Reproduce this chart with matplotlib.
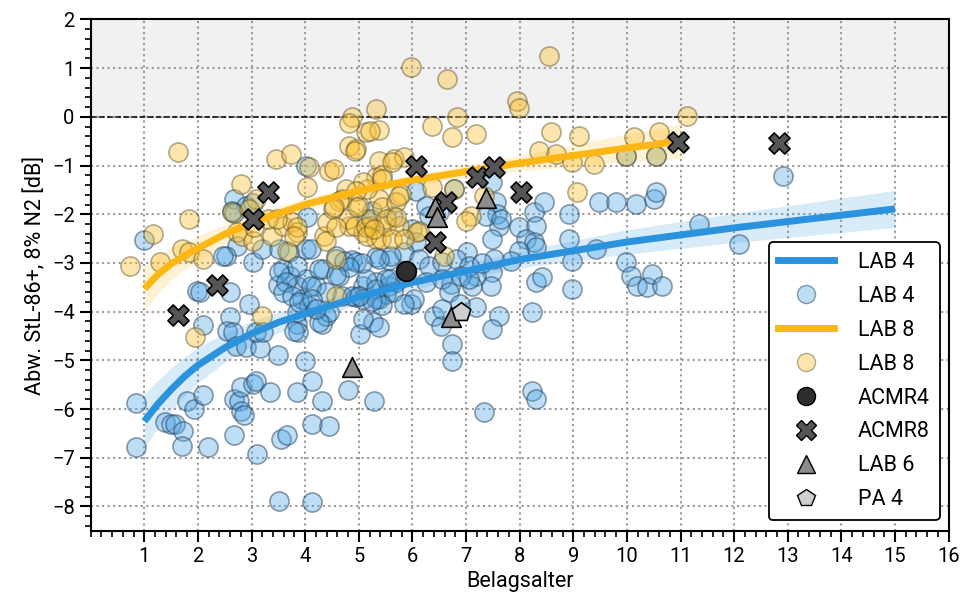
import numpy as np
import matplotlib
matplotlib.use('Agg')
import matplotlib.pyplot as plt
from matplotlib.lines import Line2D
from matplotlib.ticker import MultipleLocator

plt.rcParams['font.family'] = ['Roboto', 'DejaVu Sans']

# LAB 4 Messpunkte
lab4_x = [0.85, 0.85, 1.00, 1.38, 1.49, 1.58, 1.73, 1.71, 1.80, 1.92, 2.09, 2.18, 2.10, 2.59, 2.55,
          2.65, 2.71, 2.89, 3.15, 3.09, 3.21, 2.96, 2.68, 2.77, 2.80, 2.85, 2.80, 3.02, 3.09, 2.68,
          3.11, 3.50, 3.35, 3.55, 3.67, 3.84, 4.00, 4.13, 4.32, 4.12, 4.45, 4.32, 3.84, 3.86, 3.84,
          3.52, 4.12, 4.79, 5.03, 5.29, 5.27, 5.38, 4.39, 1.99, 2.59, 2.68, 2.90, 2.64, 2.72, 2.53,
          3.02, 3.58, 3.50, 3.71, 3.84, 4.02, 3.94, 4.21, 4.33, 4.02, 4.04, 4.02, 4.58, 4.88, 4.69,
          5.07, 5.32, 5.38, 5.07, 5.57, 4.08, 4.45, 4.26, 3.80, 4.64, 5.51, 5.70, 4.95, 3.02, 2.68,
          3.20, 3.52, 2.46, 3.70, 4.11, 4.73, 4.95, 3.84, 4.26, 3.52, 3.65, 4.11, 4.39, 3.58, 3.76,
          3.89, 4.13, 4.20, 5.14, 5.33, 5.51, 5.63, 4.88, 5.07, 5.32, 5.44, 5.57, 5.32, 2.03, 5.25,
          5.14, 5.63, 6.07, 6.78, 6.26, 6.31, 7.49, 7.56, 7.58, 7.62, 7.49, 7.99, 8.27, 8.45, 8.31,
          8.12, 8.27, 8.31, 7.99, 7.84, 7.52, 7.49, 7.47, 7.19, 7.11, 7.02, 6.72, 8.31, 8.42, 8.23,
          7.62, 7.49, 7.19, 6.41, 6.54, 8.98, 8.98, 8.92, 8.92, 9.42, 9.48, 9.80, 10.17, 10.50, 10.54,
          9.98, 10.07, 10.19, 10.37, 10.47, 10.65, 11.34, 9.98, 10.54, 12.92, 12.09, 5.98, 6.74, 6.74, 8.23,
          8.31, 7.34, 7.37, 7.66, 6.50, 6.00, 6.07, 5.85, 5.60, 5.38, 5.06, 4.82, 4.58, 5.59, 5.88,
          6.13, 6.31, 6.56, 6.82, 7.06, 6.26, 6.56, 6.91, 6.69, 6.03, 5.85, 5.25, 5.00, 7.30, 7.05,
          6.89, 6.56]
lab4_y = [-5.87, -6.77, -2.53, -6.26, -6.30, -6.30, -6.45, -6.75, -5.83, -6.00, -5.72, -6.77, -4.27, -4.11, -4.39,
          -4.42, -4.70, -4.72, -4.74, -4.42, -4.42, -3.84, -5.79, -5.83, -6.03, -6.13, -5.55, -5.49, -5.42, -6.54,
          -6.93, -4.90, -5.65, -6.61, -6.53, -5.65, -5.02, -5.42, -5.83, -6.30, -6.34, -4.25, -4.25, -4.42, -4.00,
          -7.88, -7.90, -5.60, -4.46, -5.83, -4.22, -4.32, -4.08, -3.58, -3.59, -1.69, -1.83, -1.94, -2.65, -2.86,
          -2.98, -3.13, -3.45, -3.27, -3.47, -3.32, -3.74, -3.47, -3.13, -2.71, -2.06, -1.00, -2.86, -2.93, -3.68,
          -3.47, -3.39, -3.74, -4.15, -3.47, -3.88, -4.00, -4.21, -4.39, -3.27, -3.63, -3.39, -3.70, -1.76, -1.98,
          -2.72, -2.72, -2.86, -2.78, -2.72, -2.96, -2.98, -3.06, -3.12, -3.18, -3.39, -3.47, -3.60, -3.60, -3.67,
          -3.80, -3.74, -3.94, -3.33, -3.54, -3.33, -3.60, -3.67, -3.74, -3.74, -3.87, -2.94, -2.87, -3.60, -1.94,
          -2.10, -2.04, -1.53, -1.49, -1.83, -2.04, -1.34, -1.75, -2.00, -2.24, -2.51, -2.27, -1.96, -1.75, -2.24,
          -2.51, -2.58, -2.68, -2.76, -2.96, -2.92, -3.19, -3.47, -3.27, -3.47, -2.78, -3.43, -3.39, -3.29, -4.01,
          -4.09, -4.36, -3.90, -4.09, -4.29, -3.54, -2.96, -2.51, -2.00, -2.72, -1.75, -1.75, -1.79, -1.69, -1.55,
          -2.98, -3.27, -3.47, -3.50, -3.23, -3.47, -2.20, -0.81, -0.81, -1.21, -2.61, -3.84, -4.66, -5.01, -5.62,
          -5.79, -6.06, -2.03, -2.09, -1.96, -2.31, -2.57, -2.77, -2.86, -2.92, -3.00, -3.08, -3.25, -3.33, -3.26,
          -2.92, -3.06, -2.98, -2.92, -3.06, -3.39, -3.33, -3.27, -3.59, -3.74, -3.84, -3.78, -3.68, -3.00, -3.33,
          -3.84, -3.94]

# LAB 8 Messpunkte
lab8_x = [0.73, 1.17, 1.30, 1.62, 1.84, 1.71, 1.84, 2.09, 1.94, 2.81, 2.64, 2.72, 2.83, 3.09, 3.02,
          3.20, 3.39, 3.58, 3.46, 3.74, 4.08, 4.45, 4.04, 3.76, 3.84, 3.67, 4.36, 4.41, 4.58, 4.82,
          5.07, 5.20, 5.33, 4.88, 5.14, 5.33, 5.38, 4.82, 4.95, 5.38, 5.33, 4.77, 4.69, 5.00, 5.38,
          4.82, 5.20, 6.37, 6.74, 7.19, 5.66, 5.84, 5.44, 5.16, 5.44, 2.96, 3.05, 3.30, 3.48, 3.84,
          3.80, 4.39, 4.79, 4.92, 5.14, 5.23, 5.16, 5.42, 5.51, 5.75, 5.62, 4.64, 5.44, 4.51, 4.92,
          5.07, 4.54, 4.95, 5.79, 6.37, 6.78, 4.54, 4.97, 5.70, 5.51, 5.29, 5.70, 6.13, 4.58, 7.10,
          7.00, 6.59, 5.98, 6.65, 8.55, 7.95, 7.99, 11.12, 6.83, 8.58, 9.11, 10.13, 10.60, 8.36, 8.68,
          8.98, 9.39, 9.98, 10.54, 5.62, 5.75, 6.09, 5.85, 7.34, 9.07, 4.58]
lab8_y = [-3.06, -2.41, -2.98, -0.73, -2.10, -2.72, -2.78, -2.92, -4.52, -1.38, -1.96, -2.37, -2.45, -1.69, -2.55,
          -4.09, -2.45, -2.24, -0.87, -0.77, -1.04, -1.12, -1.45, -2.16, -2.37, -2.76, -2.45, -2.16, -2.92, -2.24,
          -2.37, -2.24, -2.51, 0.00, -0.32, 0.16, -0.26, -0.60, -0.67, -0.91, -1.24, -1.48, -1.69, -1.83, -1.69,
          -0.12, -0.30, -0.19, -0.42, -0.36, -0.87, -0.83, -1.19, -1.49, -1.28, -1.89, -2.27, -2.10, -2.10, -2.27,
          -2.45, -2.55, -2.10, -2.24, -2.27, -2.10, -2.45, -2.51, -2.24, -2.24, -2.51, -1.73, -1.85, -1.90, -0.71,
          -1.34, -1.07, -1.53, -1.59, -1.44, -1.49, -1.85, -1.85, -1.75, -2.10, -2.30, -2.06, -2.35, -2.27, -2.04,
          -2.14, -2.86, 1.02, 0.77, 1.24, 0.32, 0.19, 0.01, -0.01, -0.32, -0.39, -0.42, -0.32, -0.70, -0.77,
          -0.93, -0.97, -0.81, -0.81, -0.93, -1.63, -2.37, -2.51, -1.63, -1.55, -3.68]

# weitere Proben
acmr4_x = [5.88]
acmr4_y = [-3.17]
acmr8_x = [1.62, 2.36, 3.02, 3.30, 6.07, 6.42, 6.63, 7.21, 7.52, 8.03, 10.95, 12.83]
acmr8_y = [-4.07, -3.45, -2.10, -1.55, -1.00, -2.57, -1.75, -1.24, -1.03, -1.55, -0.52, -0.54]
lab6_x = [6.43, 6.45, 7.37, 6.72, 4.88]
lab6_y = [-1.85, -2.05, -1.67, -4.10, -5.13]
pa4_x = [6.91]
pa4_y = [-4.00]

# Regressionskurven mit Konfidenzband
fit4_x = [1, 1.25, 1.5, 1.75, 2, 2.5, 3, 3.5, 4, 5, 6, 8, 10, 12, 15]
fit4_y = [-6.25, -5.90, -5.60, -5.33, -5.10, -4.74, -4.45, -4.22, -4.04, -3.70, -3.40, -2.93, -2.57, -2.28, -1.89]
fit4_ci = [0.55, 0.49, 0.44, 0.40, 0.36, 0.30, 0.25, 0.21, 0.18, 0.15, 0.14, 0.17, 0.25, 0.30, 0.38]
fit8_x = [1, 1.25, 1.5, 1.75, 2, 2.5, 3, 4, 5, 6, 8, 10, 11]
fit8_y = [-3.53, -3.24, -3.02, -2.85, -2.70, -2.41, -2.17, -1.80, -1.52, -1.30, -0.95, -0.64, -0.50]
fit8_ci = [0.45, 0.39, 0.34, 0.29, 0.25, 0.20, 0.17, 0.13, 0.11, 0.11, 0.16, 0.28, 0.35]

c_blue = '#2b93de'
c_orange = '#fdb714'

fig = plt.figure(figsize=(9.65, 6.08), dpi=100)
ax = fig.add_axes([0.094, 0.127, 0.889, 0.841])

ax.axhspan(0, 2, color='#f1f1f1', zorder=0)
ax.axhline(0, color='black', ls='--', lw=1.1, zorder=1)

f4x = np.array(fit4_x); f4y = np.array(fit4_y); f4c = np.array(fit4_ci)
f8x = np.array(fit8_x); f8y = np.array(fit8_y); f8c = np.array(fit8_ci)
ax.fill_between(f4x, f4y - f4c, f4y + f4c, color=c_blue, alpha=0.18, lw=0, zorder=2)
ax.fill_between(f8x, f8y - f8c, f8y + f8c, color=c_orange, alpha=0.18, lw=0, zorder=2)

ax.scatter(lab4_x, lab4_y, s=190, facecolor=(0.30, 0.65, 0.90, 0.36),
           edgecolor=(0.15, 0.25, 0.35, 0.5), lw=1.2, zorder=3)
ax.scatter(lab8_x, lab8_y, s=190, facecolor=(0.99, 0.76, 0.2, 0.40),
           edgecolor=(0.35, 0.3, 0.15, 0.45), lw=1.2, zorder=3)

ax.plot(f4x, f4y, color=c_blue, lw=5, zorder=4, solid_capstyle='butt')
ax.plot(f8x, f8y, color=c_orange, lw=5, zorder=4, solid_capstyle='butt')

ax.scatter(acmr4_x, acmr4_y, s=200, marker='o', color='#2e2e2e', edgecolor='black', lw=1.2, zorder=5)
ax.scatter(acmr8_x, acmr8_y, s=230, marker='X', color='#555555', edgecolor='black', lw=1.2, zorder=5)
ax.scatter(lab6_x, lab6_y, s=200, marker='^', color='#8c8c8c', edgecolor='black', lw=1.2, zorder=5)
ax.scatter(pa4_x, pa4_y, s=200, marker='p', color='#cfcfcf', edgecolor='black', lw=1.2, zorder=5)

ax.set_xlim(0, 16)
ax.set_ylim(-8.5, 2)
ax.xaxis.set_major_locator(MultipleLocator(1))
ax.xaxis.set_minor_locator(MultipleLocator(0.2))
ax.yaxis.set_major_locator(MultipleLocator(1))
ax.yaxis.set_minor_locator(MultipleLocator(0.2))
ax.set_xticks(range(1, 17))
ax.tick_params(which='major', direction='out', length=8, width=1.5, labelsize=14.5)
ax.tick_params(which='minor', direction='out', length=4, width=1.2)
ax.grid(True, which='major', ls=':', color='#999999', lw=1.5)
ax.set_axisbelow(True)
for sp in ax.spines.values():
    sp.set_linewidth(1.5)

ax.set_xlabel('Belagsalter', fontsize=15.5)
ax.set_ylabel('Abw. StL-86+, 8% N2 [dB]', fontsize=15.5)

handles = [
    Line2D([], [], color=c_blue, lw=5),
    Line2D([], [], ls='', marker='o', ms=13, markerfacecolor=(0.30, 0.65, 0.90, 0.36),
           markeredgecolor=(0.15, 0.25, 0.35, 0.5)),
    Line2D([], [], color=c_orange, lw=5),
    Line2D([], [], ls='', marker='o', ms=13, markerfacecolor=(0.99, 0.76, 0.2, 0.40),
           markeredgecolor=(0.35, 0.3, 0.15, 0.45)),
    Line2D([], [], ls='', marker='o', ms=13, color='#2e2e2e', markeredgecolor='black'),
    Line2D([], [], ls='', marker='X', ms=14, color='#555555', markeredgecolor='black'),
    Line2D([], [], ls='', marker='^', ms=13, color='#8c8c8c', markeredgecolor='black'),
    Line2D([], [], ls='', marker='p', ms=13, color='#cfcfcf', markeredgecolor='black'),
]
labels = ['LAB 4', 'LAB 4', 'LAB 8', 'LAB 8', 'ACMR4', 'ACMR8', 'LAB 6', 'PA 4']
leg = ax.legend(handles, labels, loc='lower right', fontsize=15.5, handlelength=2.6,
                labelspacing=0.6, handletextpad=1.1, borderpad=0.45,
                frameon=True, fancybox=True, framealpha=1, edgecolor='black',
                bbox_to_anchor=(1.002, 0.0))
leg.get_frame().set_linewidth(1.3)

fig.savefig('out.png', dpi=100)
